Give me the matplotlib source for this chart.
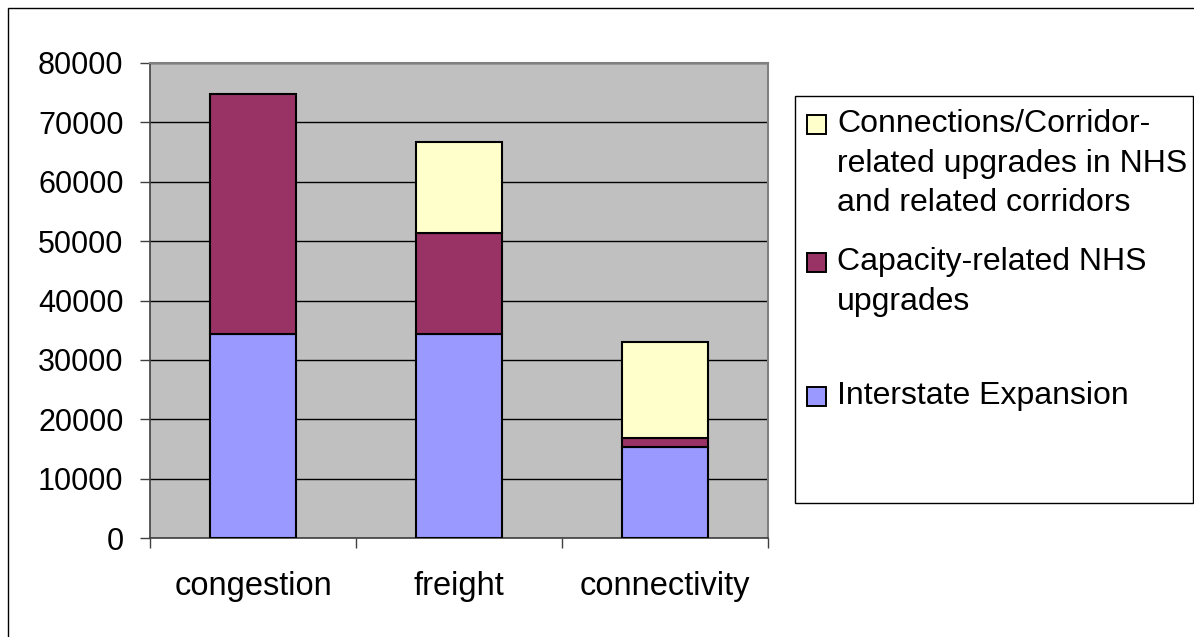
import numpy as np
import matplotlib
matplotlib.use("Agg")
import matplotlib.pyplot as plt
from matplotlib.patches import Rectangle

# data
categories = ["congestion", "freight", "connectivity"]
interstate = [34400, 34400, 15300]
capacity = [40400, 16900, 1600]
connections = [0, 15400, 16100]

series_labels = [
    "Connections/Corridor-\nrelated upgrades in NHS\nand related corridors",
    "Capacity-related NHS\nupgrades",
    "Interstate Expansion",
]
series_colors = ["#FFFFCC", "#993366", "#9999FF"]
yticks = [0, 10000, 20000, 30000, 40000, 50000, 60000, 70000, 80000]

plt.rcParams["font.family"] = ["Liberation Sans", "DejaVu Sans"]
W, H = 1194, 637
fig = plt.figure(figsize=(W / 100, H / 100), dpi=100)
ax = fig.add_axes([150 / W, 1 - 538 / H, 618 / W, 475 / H])
ax.set_facecolor("#C0C0C0")

x = np.arange(len(categories))
bw = 0.42
ax.bar(x, interstate, bw, color=series_colors[2], edgecolor="black", linewidth=1.5, zorder=3)
ax.bar(x, capacity, bw, bottom=interstate, color=series_colors[1],
       edgecolor="black", linewidth=1.5, zorder=3)
bottom2 = np.array(interstate) + np.array(capacity)
top = np.array(connections)
ax.bar(x[top > 0], top[top > 0], bw, bottom=bottom2[top > 0], color=series_colors[0],
       edgecolor="black", linewidth=1.5, zorder=3)

ax.set_xlim(-0.5, 2.5)
ax.set_ylim(0, 80000)
ax.set_yticks(yticks)
ax.set_yticklabels([str(v) for v in yticks], fontsize=22)
ax.yaxis.grid(True, color="black", linewidth=1.0, zorder=1)
ax.set_axisbelow(True)
ax.set_xticks(x)
ax.set_xticklabels(categories, fontsize=23.5)
ax.set_xticks([-0.5, 0.5, 1.5, 2.5], minor=True)
ax.tick_params(axis="x", which="major", length=0, pad=24)
ax.tick_params(axis="x", which="minor", length=7, width=1, color="#404040", direction="out")
ax.tick_params(axis="y", length=7, width=1, color="#404040", pad=12)
for s in ["top", "right"]:
    ax.spines[s].set_color("#808080")
    ax.spines[s].set_linewidth(1.5)
for s in ["left", "bottom"]:
    ax.spines[s].set_color("#404040")
    ax.spines[s].set_linewidth(1.2)

# legend drawn by hand, Excel style
fig.add_artist(Rectangle((795 / W, 1 - 503 / H), 398 / W, 407 / H, transform=fig.transFigure,
                         fill=False, edgecolor="black", linewidth=1))
entry_y = [124, 262, 396]
for lbl, col, yy in zip(series_labels, series_colors, entry_y):
    fig.add_artist(Rectangle((807 / W, 1 - (yy + 9.5) / H), 19 / W, 19 / H,
                             transform=fig.transFigure, facecolor=col,
                             edgecolor="black", linewidth=1.4))
    fig.text(837 / W, 1 - (yy - 15) / H, lbl, fontsize=23, va="top", ha="left",
             linespacing=1.42)

# outer chart border
fig.add_artist(Rectangle((8 / W, -0.1), 1.2, 1.1 - 8 / H, transform=fig.transFigure,
                         fill=False, edgecolor="black", linewidth=1))

fig.savefig("out.png", dpi=100)
